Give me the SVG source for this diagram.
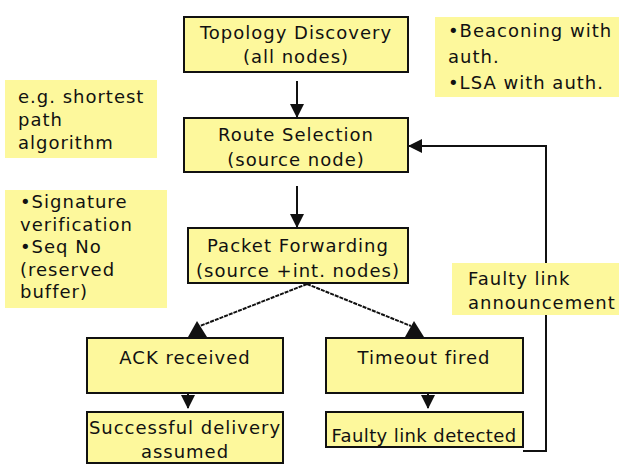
<svg xmlns="http://www.w3.org/2000/svg" width="619" height="464" viewBox="0 0 619 464">
<style>
.box{fill:#fdf89c;stroke:#111;stroke-width:2}
.note{fill:#fdf89c;stroke:none}
text{font-family:"DejaVu Sans",Verdana,sans-serif;font-size:18px;fill:#111;letter-spacing:1px}
.c{text-anchor:middle}
.ln{fill:none;stroke:#111;stroke-width:2}
.dl{fill:none;stroke:#111;stroke-width:2;stroke-dasharray:4 1}
.ah{fill:#111}
</style>
<defs>
<marker id="arr" markerWidth="14" markerHeight="14" refX="13" refY="7" orient="auto" markerUnits="userSpaceOnUse">
<path d="M0,0 L14,7 L0,14 Z" fill="#111"/>
</marker>
</defs>
<rect width="619" height="464" fill="#fff"/>
<g id="connectors">
<line class="ln" x1="297" y1="81" x2="297" y2="117" marker-end="url(#arr)"/>
<line class="ln" x1="297" y1="186" x2="297" y2="227" marker-end="url(#arr)"/>
<line class="dl" x1="307" y1="284" x2="200" y2="326"/>
<polygon class="ah" points="197,321 188,337 207,337"/>
<line class="dl" x1="307" y1="284" x2="411" y2="326"/>
<polygon class="ah" points="414,321 405,337 424,337"/>
<line class="ln" x1="188" y1="375" x2="188" y2="408" marker-end="url(#arr)"/>
<line class="ln" x1="428" y1="375" x2="428" y2="408" marker-end="url(#arr)"/>
<path class="ln" d="M523,451 H546 V146 H409" marker-end="url(#arr)"/>
</g>
<g id="topology">
<rect class="box" x="184" y="17" width="224" height="55"/>
<text class="c" x="296" y="39">Topology Discovery</text>
<text class="c" x="296" y="63">(all nodes)</text>
</g>
<g id="route">
<rect class="box" x="184" y="118" width="224" height="54"/>
<text class="c" x="296" y="141">Route Selection</text>
<text class="c" x="296" y="166">(source node)</text>
</g>
<g id="packet">
<rect class="box" x="188" y="228" width="220" height="55"/>
<text class="c" x="298" y="252">Packet Forwarding</text>
<text class="c" x="298" y="277">(source +int. nodes)</text>
</g>
<g id="ack">
<rect class="box" x="87" y="338" width="196" height="55"/>
<text class="c" x="185" y="364">ACK received</text>
</g>
<g id="timeout">
<rect class="box" x="326" y="338" width="197" height="55"/>
<text class="c" x="424" y="364">Timeout fired</text>
</g>
<g id="success">
<rect class="box" x="87" y="412" width="196" height="51"/>
<text class="c" x="185" y="434">Successful delivery</text>
<text class="c" x="185" y="458">assumed</text>
</g>
<g id="faulty">
<rect class="box" x="326" y="412" width="197" height="35"/>
<text class="c" x="424" y="442" style="letter-spacing:0.4px">Faulty link detected</text>
</g>
<g id="note-beacon">
<rect class="note" x="435" y="17" width="184" height="80"/>
<text x="448" y="37">•Beaconing with</text>
<text x="448" y="63">auth.</text>
<text x="448" y="89">•LSA with auth.</text>
</g>
<g id="note-shortest">
<rect class="note" x="5" y="80" width="152" height="78"/>
<text x="18" y="103">e.g. shortest</text>
<text x="18" y="126">path</text>
<text x="18" y="149">algorithm</text>
</g>
<g id="note-signature">
<rect class="note" x="5" y="190" width="162" height="118"/>
<text x="20" y="208">•Signature</text>
<text x="20" y="231">verification</text>
<text x="20" y="253">•Seq No</text>
<text x="20" y="276">(reserved</text>
<text x="20" y="298">buffer)</text>
</g>
<g id="note-faulty">
<rect class="note" x="452" y="263" width="167" height="52"/>
<text x="468" y="285">Faulty link</text>
<text x="468" y="309">announcement</text>
</g>
</svg>
